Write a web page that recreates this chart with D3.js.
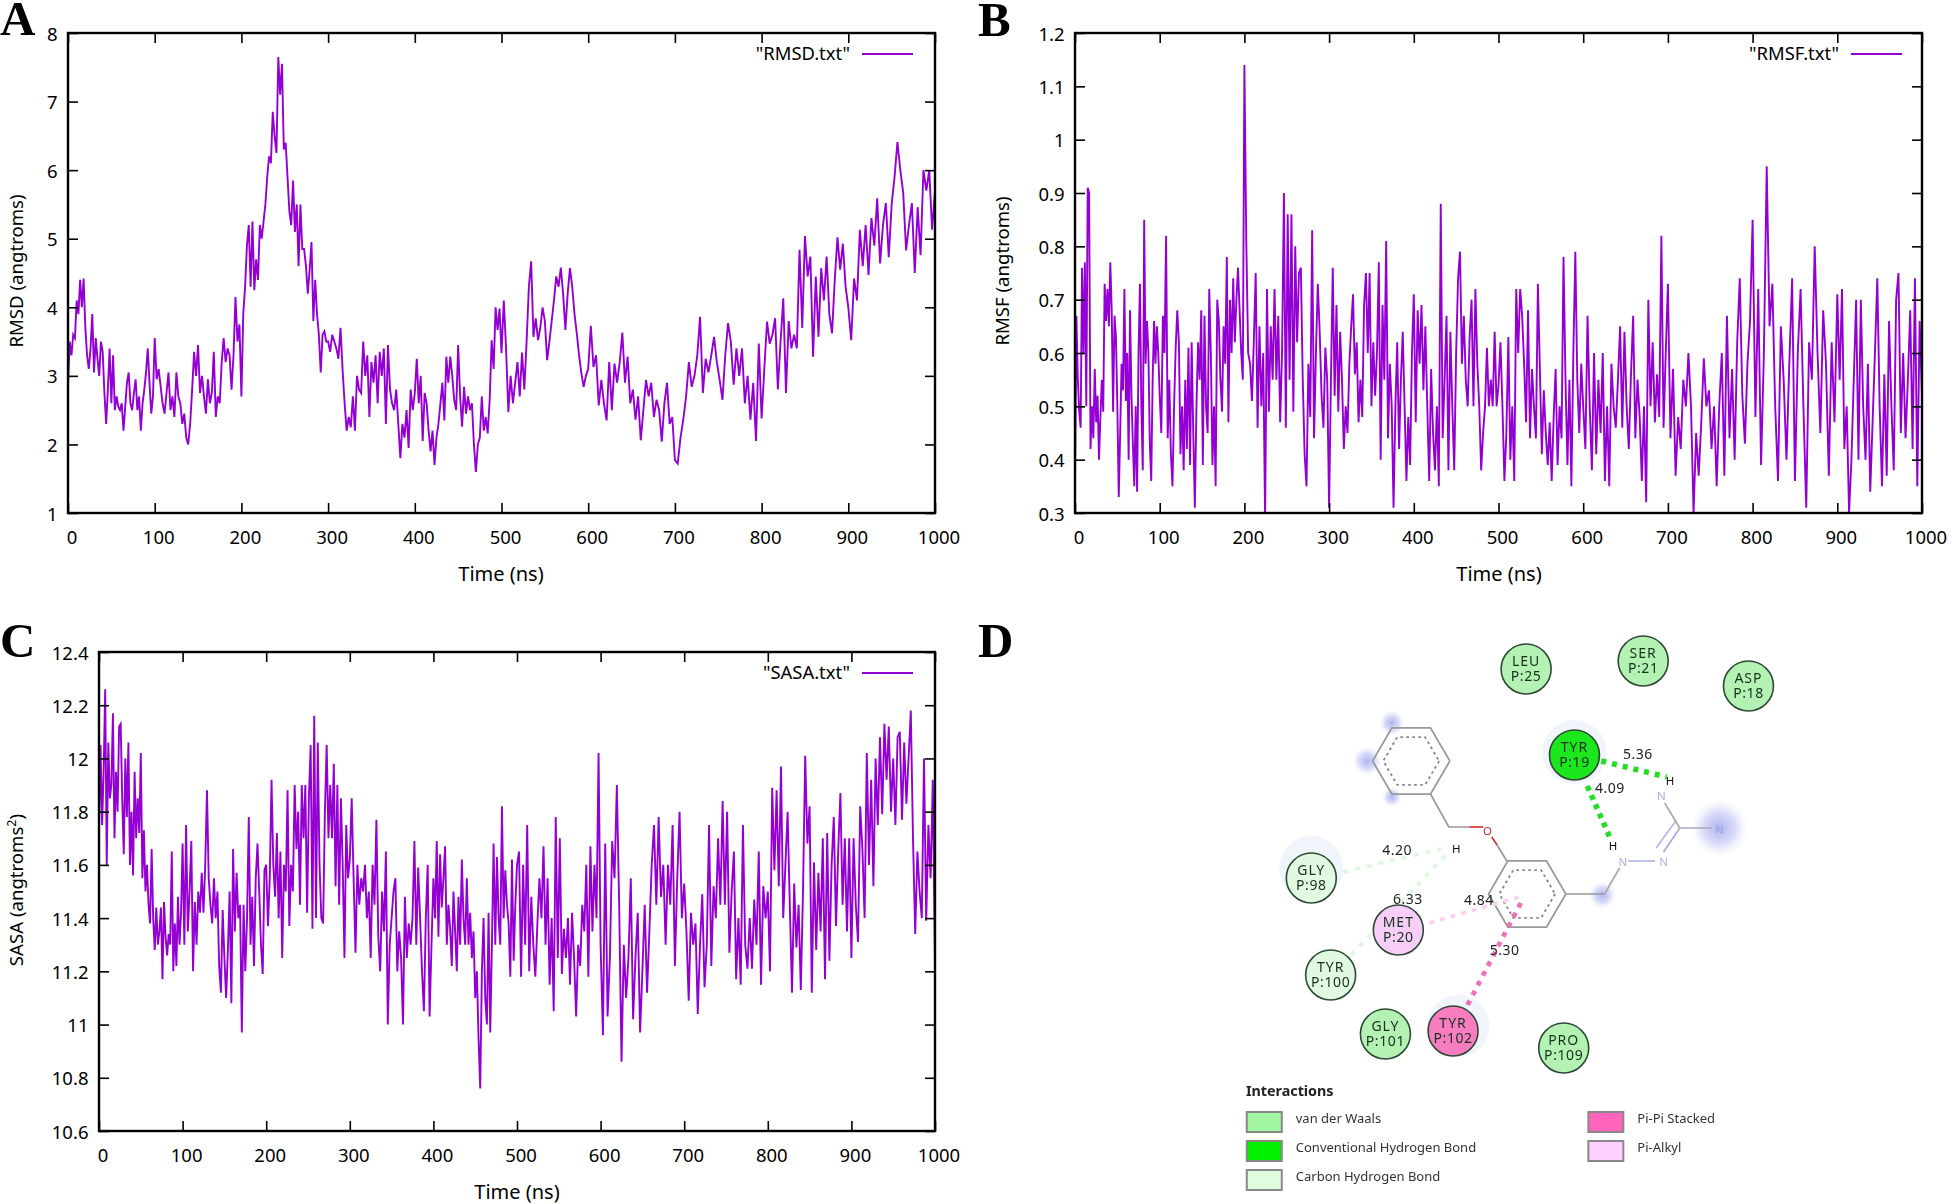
<!DOCTYPE html>
<html><head><meta charset="utf-8">
<script src="https://cdn.jsdelivr.net/npm/d3@7"></script>
<style>
html,body{margin:0;padding:0;background:#fff}
svg{display:block}
text{font-family:"Noto Sans",sans-serif;fill:#000}
</style></head><body>
<svg id="fig" width="1952" height="1204"></svg>
<script>
// ---------- RMSD, one list per 100 ns ----------
const rmsd000=[2.85,3.5,3.3,3.6,3.55,4.1,3.9,4.4,4.0,4.42,3.7,3.3,3.1,3.4,3.9,3.05,3.55,3.25,3.0,3.5,3.35,2.75,2.3,2.8,3.4,2.6,3.3,2.5,2.7,2.55,2.5,2.6,2.2,2.55,2.9,3.05,2.6,2.5,2.75,2.95,2.5,2.7,2.2,2.6,2.8,3.05,3.4,2.9,2.45,2.7];
const rmsd100=[3.55,2.95,3.1,2.85,2.6,2.45,2.75,3.05,2.5,2.7,2.4,3.05,2.7,2.6,2.3,2.45,2.1,2.0,2.3,2.8,3.35,3.0,3.45,2.75,3.0,2.7,2.45,2.95,2.6,2.75,3.35,2.4,2.7,2.6,3.2,3.55,3.2,3.4,3.3,2.8,3.3,4.15,3.5,3.75];
const rmsd200=[2.7,3.9,4.3,4.9,5.2,4.3,5.25,4.25,4.7,4.4,5.2,5.0,5.25,5.5,5.9,6.2,6.1,6.85,6.5,6.25,7.65,7.1,7.55,6.3,6.4,5.9,5.4,5.2,5.85,5.1,5.5,4.6,5.5,4.85,4.85,4.6,4.2,4.55,4.95,3.8,4.4,3.9,3.6,3.05,3.6,3.65,3.5];
const rmsd300=[3.5,3.35,3.6,3.5,3.4,3.25,3.7,3.1,2.6,2.2,2.4,2.25,2.7,2.2,3.0,2.8,2.75,3.5,3.0,3.3,2.4,3.2,2.9,3.3,2.6,3.35,3.0,3.4,2.3,3.45,2.8,2.6,2.5,2.8,2.3,1.8,2.3,2.1,2.5,1.95,2.8,2.5];
const rmsd400=[2.75,3.25,2.6,3.0,2.05,2.75,2.6,2.2,1.9,2.2,1.7,2.1,2.3,2.6,2.9,2.35,3.28,2.9,3.28,3.0,2.65,2.5,3.45,2.7,2.26,2.84,2.45,2.7,2.5,2.6,2.0,1.6,2.0,2.1,2.7,2.2,2.4,2.16,2.65,3.52,3.1,4.0,3.67,3.98];
const rmsd500=[3.33,4.1,3.4,2.47,3.0,2.6,2.9,3.2,2.7,3.34,2.8,3.5,4.3,4.67,3.57,3.84,3.52,3.7,4.0,3.8,3.23,3.5,3.8,4.1,4.45,4.3,4.58,4.2,3.67,4.2,4.57,4.3,3.9,3.62,3.3,3.04,2.84,3.0];
const rmsd600=[3.1,3.73,3.13,3.3,2.57,2.94,2.6,2.35,3.2,2.5,3.18,2.9,3.2,3.63,2.9,3.28,2.6,2.8,2.36,2.7,2.06,2.5,2.94,2.7,2.9,2.4,2.65,2.5,2.04,2.6,2.9,2.3,2.4];
const rmsd700=[1.77,1.72,2.1,2.36,2.7,3.2,2.84,3.0,3.3,3.86,2.75,3.25,3.05,3.3,3.57,3.2,2.94,2.65,3.3,3.77,3.5,2.87,3.4,3.0,3.4,2.6,3.0,2.36,2.9,2.05,3.47];
const rmsd800=[2.38,3.1,3.79,3.47,3.6,3.84,2.8,3.5,4.13,2.75,3.8,3.4,3.6,3.4,4.84,3.7,5.04,4.45,4.74,3.28,4.45,3.57,4.57,4.1,4.74,3.9,3.62,4.4,5.02,4.55,4.93,4.3];
const rmsd900=[4.0,3.52,4.42,4.1,5.13,4.6,5.2,4.47,5.3,4.9,5.59,4.64,5.2,5.52,4.73,5.5,5.9,6.41,6.0,5.67,4.83,5.2,5.52,4.5,5.46,4.76,6.0,5.7,6.0,5.13,5.7];

// ---------- RMSF ----------
const rmsf000=[.35,.67,.55,.49,.46,.76,.6,.77,.5,.91,.90,.42,.5,.44,.57,.47,.52,.40,.48,.55,.49,.73,.66,.72,.65,.77,.68,.49,.67,.63,.5,.33,.45,.58,.53,.72,.51,.6,.40,.68,.52,.43,.35,.5,.34,.60,.73,.5,.38,.85,.58,.66,.60,.43,.36,.55,.66,.58,.65,.60];
const rmsf100=[.52,.45,.67,.6,.82,.44,.55,.41,.35,.5,.61,.68,.62,.41,.5,.38,.55,.42,.61,.39,.62,.45,.31,.5,.62,.55,.68,.39,.67,.5,.45,.72,.6,.39,.5,.35,.70,.66,.55,.49,.65,.58,.78,.47,.70,.6,.74,.62,.70,.76,.68,.6,.55];
const rmsf200=[1.14,.81,.6,.58,.51,.62,.75,.46,.65,.50,.60,.29,.72,.49,.65,.55,.72,.55,.67,.47,.6,.90,.46,.86,.55,.86,.49,.80,.62,.75,.76,.55,.41,.35,.58,.48,.83,.44,.6,.73,.64,.52,.46,.61,.55];
const rmsf300=[.31,.55,.76,.52,.69,.49,.64,.55,.42,.5,.45,.58,.65,.71,.56,.62,.47,.55,.48,.69,.75,.6,.75,.5,.62,.52,.6,.77,.40,.69,.55,.81,.44,.58,.50,.31,.5,.62,.42,.55,.64,.5,.36,.48,.39,.6];
const rmsf400=[.71,.47,.68,.58,.69,.53,.65,.5,.36,.57,.45,.38,.5,.35,.88,.44,.55,.67,.38,.64,.5,.38,.6,.74,.79,.58,.67,.55,.5,.63,.70,.5,.72,.58,.5,.38,.45,.5,.61,.5,.55,.5,.64,.5];
const rmsf500=[.54,.62,.5,.36,.45,.63,.40,.5,.36,.72,.60,.72,.67,.58,.47,.68,.44,.57,.5,.44,.73,.57,.41,.53,.45,.39,.47,.36,.48,.57,.39,.50,.44,.78,.55,.39,.55,.35,.60,.79,.55,.45,.58];
const rmsf600=[.50,.42,.67,.5,.38,.60,.41,.55,.45,.60,.36,.5,.35,.58,.50,.46,.55,.65,.46,.64,.5,.42,.56,.67,.44,.55,.48,.36,.50,.32,.70,.50,.62,.47,.56,.48,.82,.46,.6];
const rmsf700=[.73,.44,.57,.37,.48,.42,.55,.50,.60,.50,.30,.45,.37,.47,.59,.50,.53,.42,.5,.35,.50,.6,.37,.67,.44,.57,.40,.62,.74,.52,.43,.58,.66];
const rmsf800=[.85,.48,.72,.39,.6,.95,.65,.73,.50,.36,.65,.55,.40,.58,.74,.36,.6,.72,.50,.31,.62,.55,.80,.6,.45,.68,.58,.37,.62,.47];
const rmsf900=[.71,.55,.72,.42,.50,.30,.40,.55,.70,.40,.70,.50,.40,.58,.34,.47,.60,.74,.50,.35,.56,.37,.66,.50,.38,.70,.75,.45,.6,.44,.55,.68,.42,.74,.35,.66,.52];

// ---------- SASA ----------
const sasa000=[11.74,12.05,11.75,11.95,12.26,11.6,12.06,11.85,11.9,12.17,11.7,11.95,11.8,12.12,12.13,11.85,11.64,12.0,11.78,12.06,11.6,11.8,11.56,11.95,11.7,11.85,11.72,12.02,11.55,11.73,11.5,11.6,11.45,11.38,11.66,11.4,11.28,11.44,11.3,11.35,11.44,11.17,11.46,11.33,11.26,11.34,11.3,11.65,11.2,11.38,11.22,11.48,11.3,11.42];
const sasa100=[11.68,11.3,11.75,11.35,11.5,11.69,11.2,11.46,11.3,11.5,11.42,11.57,11.42,11.6,11.88,11.55,11.45,11.38,11.55,11.4,11.5,11.22,11.12,11.43,11.25,11.1,11.28,11.5,11.08,11.66,11.35,11.57,11.4,11.45,10.97,11.45,11.2,11.4,11.78,11.3,11.48,11.22,11.55,11.68,11.5,11.3,11.19,11.58];
const sasa200=[11.6,11.37,11.55,11.92,11.6,11.48,11.72,11.4,11.65,11.25,11.6,11.5,11.88,11.37,11.6,11.5,11.9,11.66,11.8,11.45,11.9,11.7,11.9,11.42,11.85,12.05,11.36,12.16,11.4,12.06,11.6,11.4,11.38,11.8,12.05,11.7,11.9,11.7,11.98,11.52,11.9,11.45,11.85,11.6,11.25,11.75,11.55];
const sasa300=[11.62,11.85,11.55,11.27,11.6,11.45,11.55,11.5,11.6,11.4,11.5,11.25,11.6,11.45,11.77,11.33,11.2,11.5,11.35,11.65,11.0,11.3,11.4,11.5,11.55,11.2,11.35,11.25,11.0,11.48,11.25,11.38,11.3,11.4,11.69,11.3,11.59,11.4,11.2,11.05,11.4,11.6,11.03,11.3];
const sasa400=[11.55,11.4,11.69,11.33,11.64,11.44,11.55,11.67,11.3,11.45,11.36,11.22,11.5,11.35,11.2,11.48,11.3,11.62,11.4,11.3,11.55,11.3,11.42,11.25,11.35,11.1,11.2,10.95,10.76,11.2,11.4,11.1,11.0,11.42,10.97,11.3,11.68,11.3,11.63,11.4,11.3,11.82,11.4,11.58,11.45,11.38,11.18,11.62,11.24,11.45];
const sasa500=[11.6,11.65,11.18,11.6,11.3,11.75,11.2,11.48,11.3,11.18,11.38,11.55,11.4,11.67,11.3,11.55,11.15,11.4,11.05,11.78,11.25,11.7,11.19,11.36,11.25,11.4,11.15,11.42,11.25,11.03,11.3,11.22,11.45,11.35,11.6,11.18,11.67,11.35,11.6,11.4,12.02];
const sasa600=[11.3,10.96,11.68,11.03,11.25,11.69,11.55,11.9,11.45,10.86,11.3,11.1,11.25,11.55,11.02,11.25,11.42,10.97,11.2,11.45,11.12,11.35,11.6,11.75,11.45,11.78,11.48,11.6,11.3,11.6,11.45,11.75,11.22,11.55,11.8,11.4];
const sasa700=[11.53,11.35,11.09,11.42,11.3,11.38,11.04,11.3,11.49,11.14,11.3,11.75,11.22,11.52,11.4,11.7,11.45,11.84,11.45,11.8,11.27,11.5,11.65,11.17,11.4,11.15,11.75,11.3,11.21,11.4,11.21,11.47,11.3,11.65,11.15,11.52,11.4];
const sasa800=[11.5,11.2,11.89,11.58,11.88,11.52,11.97,11.4,11.6,11.8,11.45,11.12,11.53,11.29,11.45,11.13,11.5,12.01,11.68,11.82,11.12,11.61,11.28,11.57,11.35,11.7,11.17,11.72,11.24,11.6,11.78,11.37,11.65,11.87,11.45,11.7,11.35,11.7];
const sasa900=[11.25,11.7,11.45,11.31,11.82,11.66,11.4,12.02,11.6,11.92,11.52,12.0,11.75,12.08,11.79,12.13,11.92,12.12,11.8,12.0,11.75,12.08,12.1,11.77,12.06,11.83,12.0,12.18,11.7,11.34,11.65,11.5,11.4,12.0,11.39,11.75,11.55,11.92,11.23];

// ---------- tick labels ----------
const timeTicks=[0,100,200,300,400,500,600,700,800,900,1000];
const rmsdTicks=[1,2,3,4,5,6,7,8];
const rmsfTicks=[0.3,0.4,0.5,0.6,0.7,0.8,0.9,1,1.1,1.2];
const sasaTicks=[10.6,10.8,11,11.2,11.4,11.6,11.8,12,12.2,12.4];

// ---------- docking diagram ----------
const residues=["LEU|P:25","SER|P:21","ASP|P:18","TYR|P:19","GLY|P:98","MET|P:20","TYR|P:100","GLY|P:101","TYR|P:102","PRO|P:109"];
const residueKinds=["vdw","vdw","vdw","hbond","carbon","alkyl","carbon","vdw","stack","vdw"];
const distances=["5.36","4.09","4.20","6.33","4.84","5.30"];
const legendNames=["van der Waals","Conventional Hydrogen Bond","Carbon Hydrogen Bond","Pi-Pi Stacked","Pi-Alkyl"];
const legendKinds=["vdw","hbond","carbon","stack","alkyl"];

const VIOLET="#9400d3";
const svg=d3.select("#fig");
const defs=svg.append("defs");

function series(parts){
  const out=[];
  parts.forEach((p,c)=>p.forEach((v,i)=>out.push([c*100+i/(c===parts.length-1?p.length-1:p.length)*100,v])));
  return out;
}

function panel(o){
  const g=svg.append("g");
  const x=d3.scaleLinear().domain([0,1000]).range([o.left,o.right]);
  const y=d3.scaleLinear().domain(o.dom).range([o.bottom,o.top]);
  const id="clip"+o.letter;
  defs.append("clipPath").attr("id",id).append("rect")
    .attr("x",o.left).attr("y",o.top).attr("width",o.right-o.left).attr("height",o.bottom-o.top);
  g.append("path").datum(o.data).attr("fill","none").attr("stroke",VIOLET).attr("stroke-width",1.9)
    .attr("stroke-linejoin","miter").attr("clip-path",`url(#${id})`)
    .attr("d",d3.line().x(d=>x(d[0])).y(d=>y(d[1])));

  const fmtY=d=>String(+d.toFixed(1));
  const style=a=>{a.selectAll("path").remove();a.selectAll("line").attr("stroke","#000").attr("stroke-width",1.6);};
  const bottom=g.append("g").attr("transform",`translate(0,${o.bottom})`)
    .call(d3.axisBottom(x).tickValues(timeTicks).tickSize(-10).tickFormat(d3.format("d")).tickPadding(18));
  style(bottom);
  bottom.selectAll("text").attr("font-size",18.5).attr("dx",3.5).attr("fill","#000");
  g.append("g").attr("transform",`translate(0,${o.top})`)
    .call(d3.axisTop(x).tickValues(timeTicks).tickSize(-10).tickFormat("")).call(style);
  const left=g.append("g").attr("transform",`translate(${o.left},0)`)
    .call(d3.axisLeft(y).tickValues(o.ticks).tickSize(-10).tickFormat(fmtY).tickPadding(10.5));
  style(left);
  left.selectAll("text").attr("font-size",18.5).attr("dy","0.38em").attr("fill","#000");
  g.append("g").attr("transform",`translate(${o.right},0)`)
    .call(d3.axisRight(y).tickValues(o.ticks).tickSize(-10).tickFormat("")).call(style);
  g.append("rect").attr("x",o.left).attr("y",o.top).attr("width",o.right-o.left).attr("height",o.bottom-o.top)
    .attr("fill","none").attr("stroke","#000").attr("stroke-width",2.4);

  g.append("text").attr("x",o.xLabelX).attr("y",o.bottom+68).attr("text-anchor","middle").attr("font-size",20).text("Time (ns)");
  const yl=g.append("text").attr("transform",`translate(${o.yLabelX},${o.yLabelY}) rotate(-90)`).attr("text-anchor","middle").attr("font-size",18.6);
  yl.append("tspan").text(o.yLabel);
  if(o.ySup){yl.append("tspan").attr("dy",-7).attr("font-size",12.5).text(o.ySup);yl.append("tspan").attr("dy",7).text(")");}
  g.append("text").attr("x",o.keyRight).attr("y",o.top+27).attr("text-anchor","end").attr("font-size",18.4).text(o.key);
  g.append("line").attr("x1",o.keyRight+12).attr("x2",o.keyRight+63).attr("y1",o.top+21).attr("y2",o.top+21)
    .attr("stroke",VIOLET).attr("stroke-width",1.8);
  svg.append("text").attr("x",o.letterX).attr("y",o.letterY).attr("font-size",49).attr("font-weight",700)
    .style("font-family","'Liberation Serif',serif").text(o.letter);
}

panel({letter:"A",letterX:0,letterY:35,left:68,right:935,top:33,bottom:513,dom:[1,8],ticks:rmsdTicks,
  data:series([rmsd000,rmsd100,rmsd200,rmsd300,rmsd400,rmsd500,rmsd600,rmsd700,rmsd800,rmsd900]),
  xLabelX:501,yLabelX:23,yLabelY:271,yLabel:"RMSD (angtroms)",key:'"RMSD.txt"',keyRight:850});
panel({letter:"B",letterX:978,letterY:36,left:1075,right:1922,top:33,bottom:513,dom:[0.3,1.2],ticks:rmsfTicks,
  data:series([rmsf000,rmsf100,rmsf200,rmsf300,rmsf400,rmsf500,rmsf600,rmsf700,rmsf800,rmsf900]),
  xLabelX:1499,yLabelX:1009,yLabelY:271,yLabel:"RMSF (angtroms)",key:'"RMSF.txt"',keyRight:1839});
panel({letter:"C",letterX:0,letterY:657,left:99,right:935,top:652,bottom:1131,dom:[10.6,12.4],ticks:sasaTicks,
  data:series([sasa000,sasa100,sasa200,sasa300,sasa400,sasa500,sasa600,sasa700,sasa800,sasa900]),
  xLabelX:517,yLabelX:23,yLabelY:890,yLabel:"SASA (angtroms",ySup:"2",key:'"SASA.txt"',keyRight:850});

// ---------- panel D ----------
svg.append("text").attr("x",978).attr("y",657).attr("font-size",49).attr("font-weight",700)
  .style("font-family","'Liberation Serif',serif").text("D");

const dx=d3.scaleLinear().domain([1220,1780]).range([1220,1821.5]);
const kindFill={vdw:"#b4f2b4",hbond:"#1fe61f",carbon:"#e0f9e0",stack:"#f77cc0",alkyl:"#f8cdf8"};
const legendFill={vdw:"#a3f7a3",hbond:"#00f000",carbon:"#e0fde0",stack:"#ff66bb",alkyl:"#ffd0ff"};
const centers=[[1505,669],[1614,661],[1712,686],[1550,755],[1305,878],[1386,930],[1323,975],[1374,1034],[1437,1031],[1540,1048]];
const halos=[[1550,752,32],[1305,868,32],[1442,1026,31]];
const blobs=[[1380,723,13],[1357,761,15],[1380,797,10],[1576,895,14],[1685,828,29]];
const rings=[[1398,761],[1506,894]];

const fl=defs.append("filter").attr("id","soft");
fl.append("feGaussianBlur").attr("stdDeviation",0.45);
const grad=defs.append("radialGradient").attr("id","blob");
grad.append("stop").attr("offset","0%").attr("stop-color","#aab0ee").attr("stop-opacity",.95);
grad.append("stop").attr("offset","55%").attr("stop-color","#c4c8f4").attr("stop-opacity",.65);
grad.append("stop").attr("offset","100%").attr("stop-color","#e8eafc").attr("stop-opacity",0);

const d=svg.append("g").attr("filter","url(#soft)");
halos.forEach(h=>d.append("circle").attr("cx",dx(h[0])).attr("cy",h[1]).attr("r",h[2]).attr("fill","#f0f4fb"));
blobs.forEach(b=>d.append("circle").attr("cx",dx(b[0])).attr("cy",b[1]).attr("r",b[2]).attr("fill","url(#blob)"));

const hex=(c,r)=>d3.range(7).map(i=>{const a=i*Math.PI/3;return [dx(c[0])+r*1.074*Math.cos(a),c[1]+r*1.06*Math.sin(a)];});
const ln=d3.line().x(p=>dx(p[0])).y(p=>p[1]);
const raw=d3.line();
rings.forEach(c=>{
  d.append("path").attr("d",raw(hex(c,36))).attr("fill","none").attr("stroke","#999").attr("stroke-width",1.7);
  d.append("path").attr("d",raw(hex(c,26))).attr("fill","none").attr("stroke","#888").attr("stroke-width",1.9).attr("stroke-dasharray","2.6 3.4");
});
const bonds=[
 [[1416,794],[1433,827],[1452,827],"#999"],[[1452,827],[1465,827],"#d33"],
 [[1473,837],[1478,845],"#c33"],[[1478,845],[1487,861],"#999"],
 [[1542,894],[1578,894],"#999"],[[1578,894],[1592,868],"#aaa"],
 [[1600,861],[1625,861],"#b4b6ea"],[[1633,852],[1648,828],"#a8aada"],[[1626,848],[1645,820],"#b4b6ea"],
 [[1648,828],[1678,828],"#aab"],[[1648,828],[1634,803],"#aaa"]
];
bonds.forEach(b=>{const col=b[b.length-1];d.append("path").attr("d",ln(b.slice(0,-1))).attr("fill","none").attr("stroke",col).attr("stroke-width",1.7);});
const dashes=[
 [[1575,761],[1636,777],"#22dd22",5.5,"5 6"],[[1562,786],[1584,840],"#22dd22",5.5,"5 5"],
 [[1335,872],[1430,848],"#dff7df",3.8,"5 7"],[[1342,955],[1432,853],"#dff7df",3.8,"5 7"],
 [[1415,923],[1498,897],"#f8d2f2",3.8,"5 6"],[[1500,903],[1449,1008],"#ee70b8",4.8,"5 6"]
];
dashes.forEach(s=>d.append("path").attr("d",ln(s.slice(0,2))).attr("fill","none").attr("stroke",s[2]).attr("stroke-width",s[3]).attr("stroke-dasharray",s[4]));
const atoms=[["O",1469,835,"#b33"],["N",1595,866,"#aab0e0"],["N",1633,866,"#aab0e0"],["N",1685,834,"#9da4e6"],["N",1631,800,"#aab0e0"],["H",1440,853,"#111"],["H",1586,850,"#111"],["H",1639,785,"#111"]];
atoms.forEach(a=>d.append("text").attr("x",dx(a[1])).attr("y",a[2]).attr("text-anchor","middle").attr("font-size",11.5).style("fill",a[3]).text(a[0]));
const distPos=[[1609,759],[1583,793],[1385,855],[1395,904],[1461,905],[1485,955]];
distances.forEach((t,i)=>d.append("text").attr("x",dx(distPos[i][0])).attr("y",distPos[i][1]).attr("text-anchor","middle").attr("font-size",14).attr("letter-spacing",.5).style("fill","#222").text(t));
residues.forEach((r,i)=>{
  const [a,b]=r.split("|"),c=centers[i];
  d.append("circle").attr("cx",dx(c[0])).attr("cy",c[1]).attr("r",25).attr("fill",kindFill[residueKinds[i]]).attr("stroke","#2d4a35").attr("stroke-width",1.6);
  const t=d.append("text").attr("text-anchor","middle").attr("font-size",14).style("fill","#16301e");
  t.append("tspan").attr("x",dx(c[0])).attr("y",c[1]-3).attr("letter-spacing",1).text(a);
  t.append("tspan").attr("x",dx(c[0])).attr("y",c[1]+12).attr("letter-spacing",.6).text(b);
});
d.append("text").attr("x",1246).attr("y",1096).attr("font-size",14.3).attr("font-weight",700).style("fill","#222").text("Interactions");
const legendX=[1244,1244,1244,1562,1562],legendY=[1111,1140,1169,1111,1140];
legendNames.forEach((n,i)=>{
  const sx=dx(legendX[i]);
  d.append("rect").attr("x",sx+1).attr("y",legendY[i]+1).attr("width",35).attr("height",20).attr("fill",legendFill[legendKinds[i]]).attr("stroke","#888").attr("stroke-width",2);
  d.append("text").attr("x",sx+50).attr("y",legendY[i]+12).attr("font-size",13).style("fill","#333").text(n);
});
</script>
</body></html>
